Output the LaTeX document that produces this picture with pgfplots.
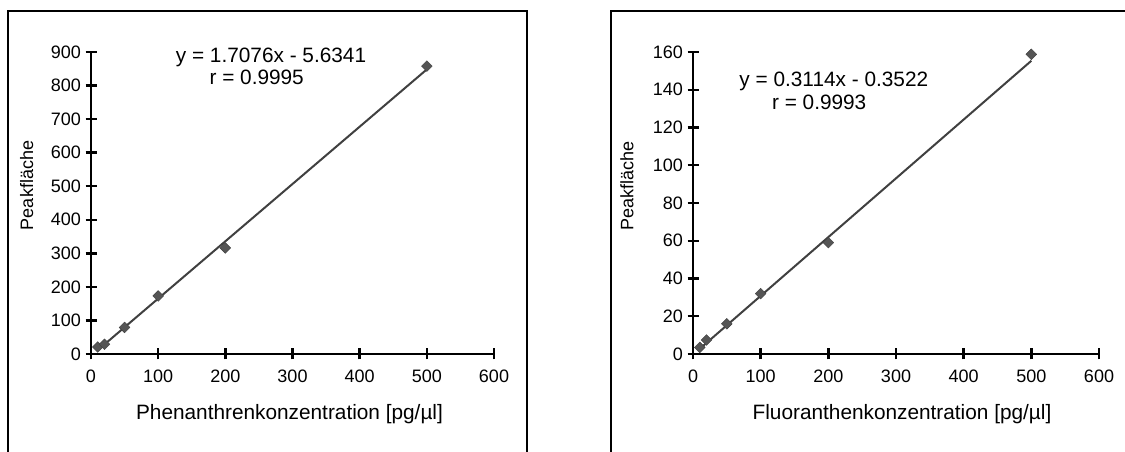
\documentclass[border=0pt]{standalone}
\usepackage{pgfplots}
\pgfplotsset{compat=1.18}
\usepackage{fontspec}
\setmainfont{Liberation Sans}
\definecolor{linegray}{HTML}{404040}
\definecolor{markgray}{HTML}{555555}
\pgfplotsset{calib/.style={
  scale only axis, axis lines*=left,
  axis line style={line width=2.4pt, black},
  major tick style={line width=2.4pt, black},
  major tick length=11pt, tick align=center,
  xmin=0, xmax=600, xtick={0,100,...,600},
  ymin=0,
  tick label style={font=\fontsize{18}{21}\selectfont},
  xticklabel style={yshift=-7pt},
  yticklabel style={xshift=-1pt},
  /pgf/number format/assume math mode=true,
  label style={font=\fontsize{20.8}{24}\selectfont},
  ylabel style={font=\fontsize{18}{21}\selectfont, anchor=base},
  clip=false,
}}
\begin{document}
\begin{tikzpicture}[x=1pt,y=1pt]
\path[use as bounding box] (0,0) rectangle (1125,452);
\clip (0,0) rectangle (1125,452);
% frames
\draw[line width=2.4pt] (8,-5) -- (8,441) -- (527,441) -- (527,-5);
\draw[line width=2.4pt] (611,-5) -- (611,441) -- (1140,441);
% left
\begin{axis}[calib, at={(91pt,98pt)}, anchor=south west,
  width=403pt, height=302pt, ymax=900, ytick={0,100,...,900},
  xlabel={Phenanthrenkonzentration [pg/µl]},
  xlabel style={at={(axis description cs:0.4926,-0.2185)}, anchor=base},
  ylabel={Peakfläche},
  ylabel style={at={(axis description cs:-0.1439,0.558)}},
]
\addplot[linegray, line width=2pt, no marks] coordinates {(10,11.44) (500,848.17)};
\addplot[only marks, mark=square*, mark size=3.8pt, mark options={rotate=45, fill=markgray, draw=linegray}] coordinates {
(10,21) (20,29) (50,79) (100,173) (200,316) (500,858)};
\node[anchor=base, font=\fontsize{20.8}{24}\selectfont] at (axis cs:268,870) {y = 1.7076x - 5.6341};
\node[anchor=base, font=\fontsize{20.8}{24}\selectfont] at (axis cs:246.7,802) {r = 0.9995};
\end{axis}
% right
\begin{axis}[calib, at={(693pt,98pt)}, anchor=south west,
  width=406pt, height=302pt, ymax=160, ytick={0,20,...,160},
  xlabel={Fluoranthenkonzentration [pg/µl]},
  xlabel style={at={(axis description cs:0.5148,-0.2185)}, anchor=base},
  ylabel={Peakfläche},
  ylabel style={at={(axis description cs:-0.147,0.556)}},
]
\addplot[linegray, line width=2pt, no marks] coordinates {(10,2.76) (500,155.35)};
\addplot[only marks, mark=square*, mark size=3.8pt, mark options={rotate=45, fill=markgray, draw=linegray}] coordinates {
(10,3.5) (20,7.4) (50,16) (100,32) (200,59) (500,158.8)};
\node[anchor=base, font=\fontsize{20.8}{24}\selectfont] at (axis cs:208.1,141.6) {y = 0.3114x - 0.3522};
\node[anchor=base, font=\fontsize{20.8}{24}\selectfont] at (axis cs:186.5,129.3) {r = 0.9993};
\end{axis}
\end{tikzpicture}
\end{document}
